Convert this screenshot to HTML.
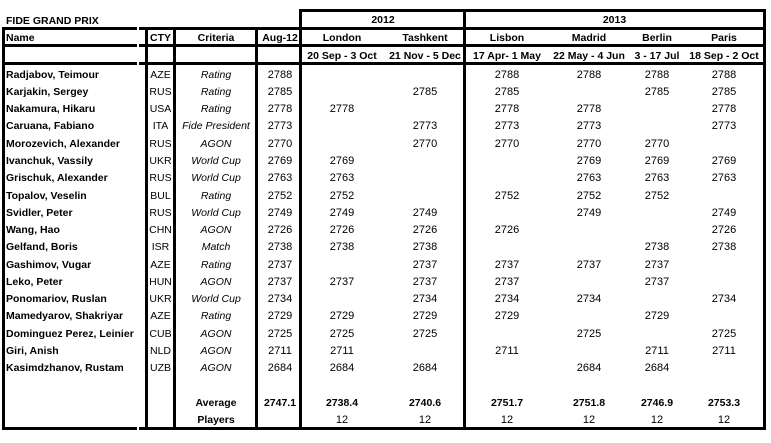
<!DOCTYPE html>
<html>
<head>
<meta charset="utf-8">
<style>
html,body{margin:0;padding:0;background:#fff;}
#w{position:relative;width:771px;height:443px;overflow:hidden;background:#fff;font-family:"Liberation Sans",Arial,sans-serif;color:#000;}
.h{position:absolute;height:3px;background:#000;}
.v{position:absolute;width:3px;background:#000;}
.g{position:absolute;width:2px;height:3px;background:#fff;}
.t{position:absolute;height:16px;line-height:16px;white-space:nowrap;font-size:10.5px;font-weight:bold;text-align:center;}
.r{position:absolute;left:0;width:771px;height:17px;line-height:17px;}
.r span{position:absolute;top:0;white-space:nowrap;text-align:center;font-size:11px;}
.r .n{left:6px;text-align:left;font-weight:bold;font-size:10.5px;}
.r .c{left:140.5px;width:40px;font-size:10.5px;}
.r .k{left:176px;width:80px;font-style:italic;font-size:10.5px;}
.r .a{left:255px;width:50px;}
.r .L{left:302px;width:80px;}
.r .T{left:385px;width:80px;}
.r .S{left:467px;width:80px;}
.r .M{left:549px;width:80px;}
.r .B{left:617px;width:80px;}
.r .P{left:684px;width:80px;}
.r .bb{font-weight:bold;font-size:10.5px;}
</style>
</head>
<body>
<div id="w">
<div class="h" style="left:299px;width:467px;top:9px;"></div>
<div class="h" style="left:2px;width:764px;top:27px;"></div>
<div class="h" style="left:2px;width:764px;top:44px;"></div>
<div class="h" style="left:2px;width:764px;top:62px;"></div>
<div class="h" style="left:2px;width:764px;top:427px;"></div>
<div class="g" style="left:137px;top:27px;"></div>
<div class="g" style="left:137px;top:44px;"></div>
<div class="g" style="left:137px;top:62px;"></div>
<div class="g" style="left:137px;top:427px;"></div>
<div class="v" style="left:2px;top:27px;height:403px;"></div>
<div class="v" style="left:145px;top:27px;height:403px;"></div>
<div class="v" style="left:173px;top:27px;height:403px;"></div>
<div class="v" style="left:255px;top:27px;height:403px;"></div>
<div class="v" style="left:299px;top:9px;height:421px;"></div>
<div class="v" style="left:463px;top:9px;height:421px;"></div>
<div class="v" style="left:763px;top:9px;height:421px;"></div>

<div class="t" style="left:6px;top:12.5px;text-align:left;">FIDE GRAND PRIX</div>
<div class="t" style="left:343px;width:80px;top:11.5px;">2012</div>
<div class="t" style="left:574.5px;width:80px;top:11.5px;">2013</div>

<div class="t" style="left:6px;top:29.5px;text-align:left;">Name</div>
<div class="t" style="left:140.5px;width:40px;top:29.5px;">CTY</div>
<div class="t" style="left:176px;width:80px;top:29.5px;">Criteria</div>
<div class="t" style="left:255px;width:50px;top:29.5px;">Aug-12</div>
<div class="t" style="left:302px;width:80px;top:29.5px;">London</div>
<div class="t" style="left:385px;width:80px;top:29.5px;">Tashkent</div>
<div class="t" style="left:467px;width:80px;top:29.5px;">Lisbon</div>
<div class="t" style="left:549px;width:80px;top:29.5px;">Madrid</div>
<div class="t" style="left:617px;width:80px;top:29.5px;">Berlin</div>
<div class="t" style="left:684px;width:80px;top:29.5px;">Paris</div>

<div class="t" style="left:302px;width:80px;top:48px;">20 Sep - 3 Oct</div>
<div class="t" style="left:385px;width:80px;top:48px;">21 Nov - 5 Dec</div>
<div class="t" style="left:467px;width:80px;top:48px;">17 Apr- 1 May</div>
<div class="t" style="left:549px;width:80px;top:48px;">22 May - 4 Jun</div>
<div class="t" style="left:617px;width:80px;top:48px;">3 - 17 Jul</div>
<div class="t" style="left:684px;width:80px;top:48px;">18 Sep - 2 Oct</div>

<div class="r" style="top:66.6px"><span class="n">Radjabov, Teimour</span><span class="c">AZE</span><span class="k">Rating</span><span class="a">2788</span><span class="S">2788</span><span class="M">2788</span><span class="B">2788</span><span class="P">2788</span></div>
<div class="r" style="top:83.9px"><span class="n">Karjakin, Sergey</span><span class="c">RUS</span><span class="k">Rating</span><span class="a">2785</span><span class="T">2785</span><span class="S">2785</span><span class="B">2785</span><span class="P">2785</span></div>
<div class="r" style="top:101.1px"><span class="n">Nakamura, Hikaru</span><span class="c">USA</span><span class="k">Rating</span><span class="a">2778</span><span class="L">2778</span><span class="S">2778</span><span class="M">2778</span><span class="P">2778</span></div>
<div class="r" style="top:118.4px"><span class="n">Caruana, Fabiano</span><span class="c">ITA</span><span class="k">Fide President</span><span class="a">2773</span><span class="T">2773</span><span class="S">2773</span><span class="M">2773</span><span class="P">2773</span></div>
<div class="r" style="top:135.7px"><span class="n">Morozevich, Alexander</span><span class="c">RUS</span><span class="k">AGON</span><span class="a">2770</span><span class="T">2770</span><span class="S">2770</span><span class="M">2770</span><span class="B">2770</span></div>
<div class="r" style="top:153.0px"><span class="n">Ivanchuk, Vassily</span><span class="c">UKR</span><span class="k">World Cup</span><span class="a">2769</span><span class="L">2769</span><span class="M">2769</span><span class="B">2769</span><span class="P">2769</span></div>
<div class="r" style="top:170.2px"><span class="n">Grischuk, Alexander</span><span class="c">RUS</span><span class="k">World Cup</span><span class="a">2763</span><span class="L">2763</span><span class="M">2763</span><span class="B">2763</span><span class="P">2763</span></div>
<div class="r" style="top:187.5px"><span class="n">Topalov, Veselin</span><span class="c">BUL</span><span class="k">Rating</span><span class="a">2752</span><span class="L">2752</span><span class="S">2752</span><span class="M">2752</span><span class="B">2752</span></div>
<div class="r" style="top:204.8px"><span class="n">Svidler, Peter</span><span class="c">RUS</span><span class="k">World Cup</span><span class="a">2749</span><span class="L">2749</span><span class="T">2749</span><span class="M">2749</span><span class="P">2749</span></div>
<div class="r" style="top:222.0px"><span class="n">Wang, Hao</span><span class="c">CHN</span><span class="k">AGON</span><span class="a">2726</span><span class="L">2726</span><span class="T">2726</span><span class="S">2726</span><span class="P">2726</span></div>
<div class="r" style="top:239.3px"><span class="n">Gelfand, Boris</span><span class="c">ISR</span><span class="k">Match</span><span class="a">2738</span><span class="L">2738</span><span class="T">2738</span><span class="B">2738</span><span class="P">2738</span></div>
<div class="r" style="top:256.6px"><span class="n">Gashimov, Vugar</span><span class="c">AZE</span><span class="k">Rating</span><span class="a">2737</span><span class="T">2737</span><span class="S">2737</span><span class="M">2737</span><span class="B">2737</span></div>
<div class="r" style="top:273.8px"><span class="n">Leko, Peter</span><span class="c">HUN</span><span class="k">AGON</span><span class="a">2737</span><span class="L">2737</span><span class="T">2737</span><span class="S">2737</span><span class="B">2737</span></div>
<div class="r" style="top:291.1px"><span class="n">Ponomariov, Ruslan</span><span class="c">UKR</span><span class="k">World Cup</span><span class="a">2734</span><span class="T">2734</span><span class="S">2734</span><span class="M">2734</span><span class="P">2734</span></div>
<div class="r" style="top:308.4px"><span class="n">Mamedyarov, Shakriyar</span><span class="c">AZE</span><span class="k">Rating</span><span class="a">2729</span><span class="L">2729</span><span class="T">2729</span><span class="S">2729</span><span class="B">2729</span></div>
<div class="r" style="top:325.7px"><span class="n">Dominguez Perez, Leinier</span><span class="c">CUB</span><span class="k">AGON</span><span class="a">2725</span><span class="L">2725</span><span class="T">2725</span><span class="M">2725</span><span class="P">2725</span></div>
<div class="r" style="top:342.9px"><span class="n">Giri, Anish</span><span class="c">NLD</span><span class="k">AGON</span><span class="a">2711</span><span class="L">2711</span><span class="S">2711</span><span class="B">2711</span><span class="P">2711</span></div>
<div class="r" style="top:360.2px"><span class="n">Kasimdzhanov, Rustam</span><span class="c">UZB</span><span class="k">AGON</span><span class="a">2684</span><span class="L">2684</span><span class="T">2684</span><span class="M">2684</span><span class="B">2684</span></div>

<div class="r" style="top:394.7px"><span class="k bb" style="font-style:normal;">Average</span><span class="a bb">2747.1</span><span class="L bb">2738.4</span><span class="T bb">2740.6</span><span class="S bb">2751.7</span><span class="M bb">2751.8</span><span class="B bb">2746.9</span><span class="P bb">2753.3</span></div>
<div class="r" style="top:412.0px"><span class="k bb" style="font-style:normal;">Players</span><span class="L">12</span><span class="T">12</span><span class="S">12</span><span class="M">12</span><span class="B">12</span><span class="P">12</span></div>
</div>
</body>
</html>
